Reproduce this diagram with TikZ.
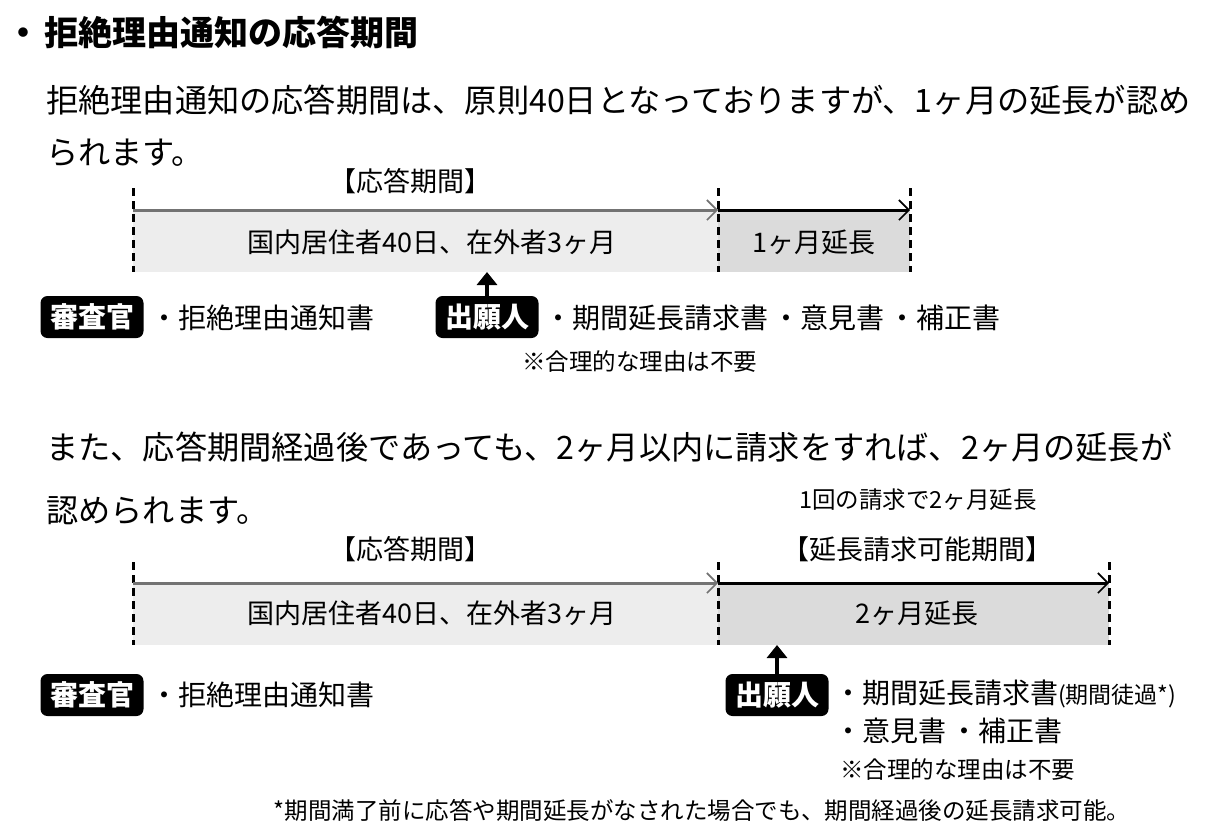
\documentclass[tikz,border=0pt]{standalone}
\usepackage{fontspec}
\setmainfont{Noto Sans CJK JP}
\usetikzlibrary{arrows.meta}
\begin{document}
\begin{tikzpicture}[x=1pt,y=-1pt,
  head/.style={font=\fontsize{34}{34}\selectfont\bfseries,inner sep=0pt,anchor=west},
  para/.style={font=\fontsize{32.2}{32.2}\selectfont,inner sep=0pt,anchor=west},
  lbl/.style={font=\fontsize{27}{27}\selectfont,inner sep=0pt},
  doc/.style={font=\fontsize{28}{28}\selectfont,inner sep=0pt,anchor=west},
  note/.style={font=\fontsize{23.5}{23.5}\selectfont,inner sep=0pt},
  actor/.style={fill=black,text=white,rounded corners=7pt,font=\fontsize{28}{28}\selectfont\bfseries,minimum width=103pt,minimum height=42pt,inner sep=0pt},
  tick/.style={line width=3pt,dash pattern=on 8pt off 5pt},
  span/.style={line width=3pt,-{Straight Barb[length=10pt,width=20pt,line width=1.6pt]}},
  push/.style={line width=4.5pt,-{Triangle[length=13pt,width=20pt]}}]
\useasboundingbox[fill=white] (0,0) rectangle (1215,838);

\node[head] (title) at (6,32) {・\hspace{4pt}拒絶理由通知の応答期間};
\node[para] (p1) at (46,100) {拒絶理由通知の応答期間は、原則40日となっておりますが、1ヶ月の延長が認め};
\node[para] (p2) at (46,153) {られます。};

\fill[black!7] (133,210) rectangle (718,272);
\fill[black!14] (718,210) rectangle (910,272);
\foreach \x in {133,718,910} \draw[tick] (\x,188) -- (\x,272);
\coordinate (a0) at (133,210);
\coordinate (a1) at (718,210);
\coordinate (a2) at (910,210);
\draw[span,black!55] (a0) -- (a1);
\draw[span] (a1) -- (a2);
\node[lbl] (t1) at (410,181) {【応答期間】};
\node[lbl] (d1) at (432,242) {国内居住者40日、在外者3ヶ月};
\node[lbl] (e1) at (814,242) {1ヶ月延長};
\node[actor] (ex1) at (92,317) {審査官};
\node[doc] (ex1doc) at (150,318) {・拒絶理由通知書};
\node[actor] (ap1) at (487,317) {出願人};
\node[doc] (ap1doc) at (544,318) {・期間延長請求書\hspace{4pt}・意見書\hspace{4pt}・補正書};
\node[note,anchor=west] (r1) at (522,362) {※合理的な理由は不要};
\coordinate (hit1) at (ap1.north |- 0,272);
\draw[push] (ap1.north) -- (hit1);

\node[para] (p3) at (46,447) {また、応答期間経過後であっても、2ヶ月以内に請求をすれば、2ヶ月の延長が};
\node[para] (p4) at (46,511) {認められます。};
\node[note] (once) at (918,500) {1回の請求で2ヶ月延長};

\fill[black!7] (133,583) rectangle (718,645);
\fill[black!14] (718,583) rectangle (1109,645);
\foreach \x in {133,718,1109} \draw[tick] (\x,562) -- (\x,645);
\coordinate (b0) at (133,583);
\coordinate (b1) at (718,583);
\coordinate (b2) at (1109,583);
\draw[span,black!55] (b0) -- (b1);
\draw[span] (b1) -- (b2);
\node[lbl] (t2) at (410,549) {【応答期間】};
\node[lbl] (t3) at (917,549) {【延長請求可能期間】};
\node[lbl] (d2) at (432,613) {国内居住者40日、在外者3ヶ月};
\node[lbl] (e2) at (917,613) {2ヶ月延長};
\node[actor] (ex2) at (92,695) {審査官};
\node[doc] (ex2doc) at (150,695) {・拒絶理由通知書};
\node[actor] (ap2) at (777,695) {出願人};
\node[doc] (ap2doc) at (834,694) {・期間延長請求書{\fontsize{23}{23}\selectfont(期間徒過*)}};
\node[doc] (ap2doc2) at (834,731) {・意見書\hspace{4pt}・補正書};
\node[note,anchor=west] (r2) at (840,770) {※合理的な理由は不要};
\coordinate (hit2) at (ap2.north |- 0,645);
\draw[push] (ap2.north) -- (hit2);

\node[note] (foot) at (702,810) {*期間満了前に応答や期間延長がなされた場合でも、期間経過後の延長請求可能。};
\end{tikzpicture}
\end{document}
